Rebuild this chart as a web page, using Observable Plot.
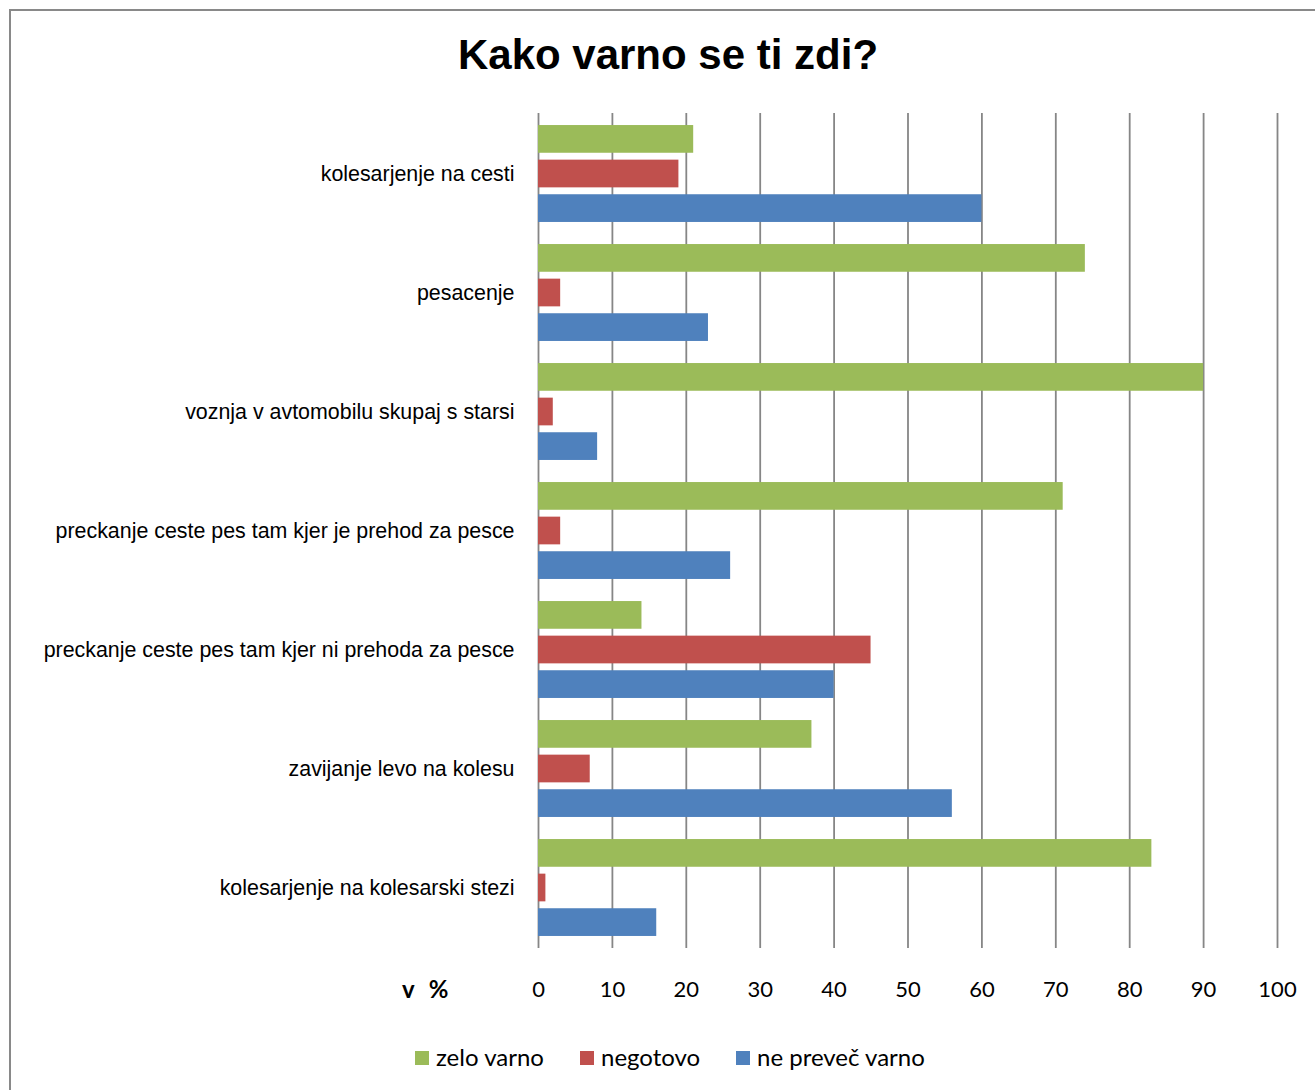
<!DOCTYPE html>
<html>
<head>
<meta charset="utf-8">
<script src="https://cdn.jsdelivr.net/npm/d3@7"></script>
<script src="https://cdn.jsdelivr.net/npm/@observablehq/plot@0.6"></script>
<style>
  html, body { margin: 0; padding: 0; background: #fff; }
  #wrap { position: relative; width: 1315px; height: 1090px; overflow: hidden; background: #fff; }
  #frame { position: absolute; left: 9px; top: 9px; width: 1400px; height: 1200px; border-left: 2px solid #898989; border-top: 2px solid #898989; }
  #title { position: absolute; left: 0; width: 1336px; top: 30px; text-align: center; font-family: "Liberation Sans", Arial, sans-serif; font-weight: bold; font-size: 42px; color: #000; line-height: 50px; }
  #chart { position: absolute; left: 0; top: 0; }
  #unit { position: absolute; left: 402px; top: 974px; font-family: Lato, sans-serif; font-weight: bold; font-size: 24px; letter-spacing: 1px; line-height: 30px; color: #000; white-space: pre; }
  #legend { position: absolute; top: 1042px; left: 0; font-family: Lato, sans-serif; font-size: 24px; color: #000; }
  .item { position: absolute; white-space: nowrap; line-height: 30px; }
  .sw { position: absolute; top: 9px; width: 14px; height: 14px; }
  .lab { position: absolute; left: 21px; top: 0; }
</style>
</head>
<body>
<div id="wrap">
  <div id="frame"></div>
  <div id="title">Kako varno se ti zdi?</div>
  <div id="chart"></div>
  <div id="unit">v  %</div>
  <div id="legend"></div>
</div>
<script>
const categories = [
  "kolesarjenje na cesti",
  "pesacenje",
  "voznja v avtomobilu skupaj s starsi",
  "preckanje ceste pes tam kjer je prehod za pesce",
  "preckanje ceste pes tam kjer ni prehoda za pesce",
  "zavijanje levo na kolesu",
  "kolesarjenje na kolesarski stezi"
];
const seriesNames = ["zelo varno", "negotovo", "ne preveč varno"];
const zeloVarno = [21, 74, 90, 71, 14, 37, 83];
const negotovo = [19, 3, 2, 3, 45, 7, 1];
const nePrevecVarno = [60, 23, 8, 26, 40, 56, 16];
const xTicks = [0, 10, 20, 30, 40, 50, 60, 70, 80, 90, 100];
const colors = ["#9BBB59", "#C0504D", "#4F81BD"];

const seriesValues = [zeloVarno, negotovo, nePrevecVarno];
const data = [];
categories.forEach((c, i) => {
  seriesNames.forEach((s, j) => data.push({category: c, series: s, value: seriesValues[j][i]}));
});

const W = 1315, H = 1010;
const mTop = 113, mBottom = H - 948;
const step = (948 - 113) / categories.length;
const barH = 28, barStep = 34.6;
const pad = (step - (2 * barStep + barH)) / 2;

const marks = [
  Plot.gridX(xTicks, {stroke: "#868686", strokeOpacity: 1, strokeWidth: 1.8}),
];
seriesNames.forEach((s, j) => {
  const top = pad + j * barStep;
  marks.push(Plot.barX(data.filter(d => d.series === s), {
    x: "value", y: "category", fill: colors[j],
    insetTop: top, insetBottom: step - top - barH
  }));
});
marks.push(Plot.axisX(xTicks, {tickSize: 0, tickPadding: 33, fontSize: 22, fontFamily: "Lato, sans-serif", fill: "#000"}));
marks.push(Plot.axisY({tickSize: 0, tickPadding: 24, fontSize: 21.4, fontFamily: "Liberation Sans, Arial, sans-serif", fill: "#000"}));

const chart = Plot.plot({
  width: W, height: H,
  marginLeft: 538, marginRight: W - 1277, marginTop: mTop, marginBottom: mBottom,
  style: {background: "transparent", color: "#000", overflow: "visible"},
  x: {domain: [0, 100], label: null},
  y: {domain: categories, padding: 0, label: null},
  marks
});
document.getElementById("chart").appendChild(chart);

const legendPos = [415, 580, 736];
const legend = document.getElementById("legend");
seriesNames.forEach((s, j) => {
  const it = document.createElement("div");
  it.className = "item";
  it.style.left = legendPos[j] + "px";
  const sw = document.createElement("div");
  sw.className = "sw";
  sw.style.background = colors[j];
  const lab = document.createElement("div");
  lab.className = "lab";
  lab.textContent = s;
  it.appendChild(sw); it.appendChild(lab);
  legend.appendChild(it);
});
</script>
</body>
</html>
